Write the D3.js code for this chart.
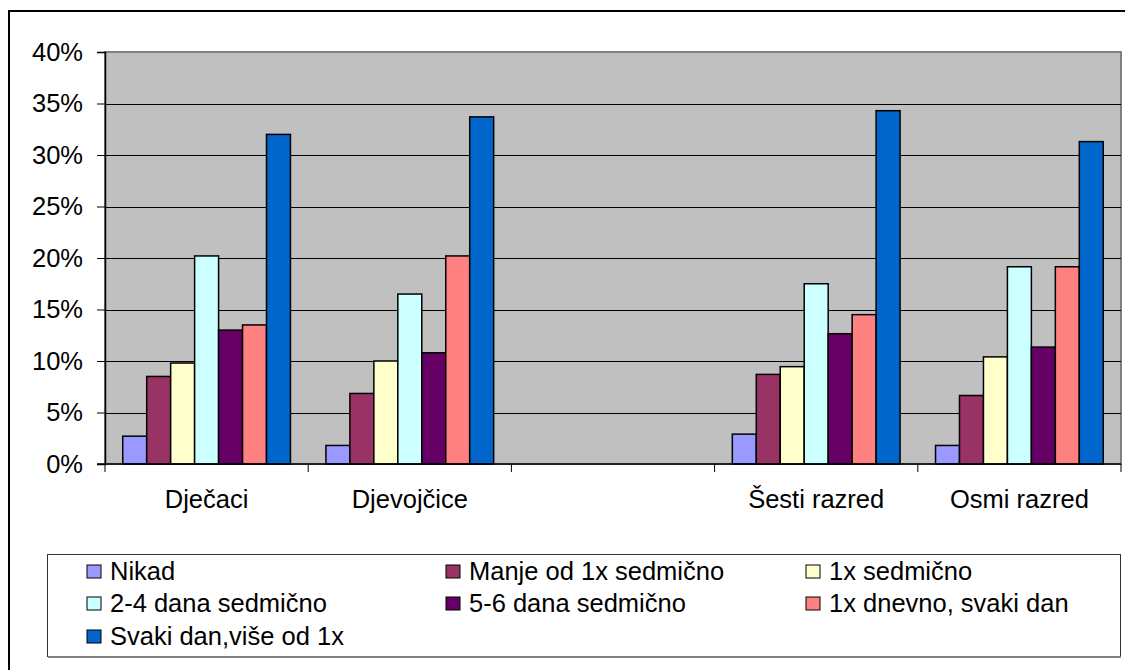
<!DOCTYPE html>
<html lang="bs">
  <head>
    <meta charset="UTF-8" />
    <title>Grouped Bar Chart</title>
    <script src="https://cdn.jsdelivr.net/npm/d3@7"></script>
    <style>
      body { margin: 0; background: #ffffff; }
      svg { display: block; font-family: Arial, "Liberation Sans", sans-serif; }
    </style>
  </head>
  <body>
    <div id="main-div"></div>
    <script>
      // categories (third slot is empty in the original chart)
      let categories = ["Dječaci", "Djevojčice", "", "Šesti razred", "Osmi razred"];
      let seriesNames = [
        "Nikad",
        "Manje od 1x sedmično",
        "1x sedmično",
        "2-4 dana sedmično",
        "5-6 dana sedmično",
        "1x dnevno, svaki dan",
        "Svaki dan,više od 1x",
      ];
      let seriesColors = ["#9999ff", "#993366", "#ffffcc", "#ccffff", "#660066", "#ff8080", "#0066cc"];
      // values in % per series, one entry per category (null = no bar)
      let nikad = [2.7, 1.8, null, 2.9, 1.8];
      let manje = [8.5, 6.85, null, 8.7, 6.65];
      let jednomSedmicno = [9.8, 10.0, null, 9.45, 10.4];
      let dvaDoCetiri = [20.2, 16.5, null, 17.5, 19.15];
      let petDoSest = [13.0, 10.8, null, 12.65, 11.35];
      let jednomDnevno = [13.5, 20.2, null, 14.5, 19.15];
      let viseOdJednom = [32.0, 33.7, null, 34.3, 31.3];
      let yTicks = [0, 5, 10, 15, 20, 25, 30, 35, 40];

      let seriesValues = [nikad, manje, jednomSedmicno, dvaDoCetiri, petDoSest, jednomDnevno, viseOdJednom];

      let W = 1125, H = 670;
      let plotLeft = 105, plotRight = 1121, plotTop = 52, plotBottom = 464;
      let fontSize = 25.5;

      let svg = d3
        .select("#main-div")
        .append("svg")
        .attr("width", W)
        .attr("height", H);

      // outer frame
      svg.append("rect")
        .attr("x", 9).attr("y", 11)
        .attr("width", 1130).attr("height", 670)
        .attr("fill", "none")
        .attr("stroke", "#000")
        .attr("stroke-width", 2);

      let x = d3.scaleBand().domain(categories).range([plotLeft, plotRight]).padding(0);
      let xs = d3.scaleBand()
        .domain(d3.range(seriesNames.length))
        .range([0, x.bandwidth()])
        .paddingInner(0)
        .paddingOuter(0.74);
      let y = d3.scaleLinear().domain([0, 40]).range([plotBottom, plotTop]);

      // plot background
      svg.append("rect")
        .attr("x", plotLeft).attr("y", plotTop)
        .attr("width", plotRight - plotLeft).attr("height", plotBottom - plotTop)
        .attr("fill", "#c0c0c0")
        .attr("stroke", "#808080")
        .attr("stroke-width", 2);

      // gridlines
      svg.append("g")
        .selectAll("line")
        .data(yTicks.filter((t) => t > 0 && t < 40))
        .join("line")
        .attr("x1", plotLeft).attr("x2", plotRight)
        .attr("y1", (d) => Math.round(y(d)) + 0.5)
        .attr("y2", (d) => Math.round(y(d)) + 0.5)
        .attr("stroke", "#000")
        .attr("stroke-width", 1);

      // bars
      seriesValues.forEach((vals, si) => {
        svg.append("g")
          .selectAll("rect")
          .data(vals.map((v, ci) => ({ v: v, c: categories[ci] })).filter((d) => d.v != null))
          .join("rect")
          .attr("x", (d) => x(d.c) + xs(si))
          .attr("y", (d) => y(d.v))
          .attr("width", xs.bandwidth())
          .attr("height", (d) => plotBottom - y(d.v))
          .attr("fill", seriesColors[si])
          .attr("stroke", "#000")
          .attr("stroke-width", 1.5);
      });

      // y axis
      let yAxis = svg.append("g")
        .attr("transform", "translate(" + plotLeft + ",0)")
        .call(d3.axisLeft(y).tickValues(yTicks).tickSize(8).tickPadding(14).tickFormat((d) => d + "%"));
      yAxis.select(".domain").attr("stroke", "#000").attr("stroke-width", 1.5);
      yAxis.selectAll(".tick line").attr("stroke", "#000");
      yAxis.selectAll("text")
        .attr("font-size", fontSize)
        .attr("font-family", "Arial, 'Liberation Sans', sans-serif")
        .attr("fill", "#000");

      // x axis with ticks at category boundaries
      let xAxis = svg.append("g").attr("transform", "translate(0," + plotBottom + ")");
      xAxis.append("line")
        .attr("x1", plotLeft - 8).attr("x2", plotRight)
        .attr("stroke", "#000").attr("stroke-width", 1.5);
      xAxis.selectAll(".xtick")
        .data(categories.map((c) => x(c)).concat([plotRight]))
        .join("line")
        .attr("class", "xtick")
        .attr("x1", (d) => d).attr("x2", (d) => d)
        .attr("y1", 0).attr("y2", 8)
        .attr("stroke", "#000");
      xAxis.selectAll(".xlabel")
        .data(categories)
        .join("text")
        .attr("class", "xlabel")
        .attr("x", (d) => x(d) + x.bandwidth() / 2)
        .attr("y", 44)
        .attr("text-anchor", "middle")
        .attr("font-size", fontSize)
        .attr("fill", "#000")
        .text((d) => d);

      // legend
      let legend = svg.append("g");
      legend.append("rect")
        .attr("x", 47.5).attr("y", 554.5)
        .attr("width", 1073).attr("height", 102)
        .attr("fill", "#fff")
        .attr("stroke", "#333")
        .attr("stroke-width", 1);
      legend.append("line")
        .attr("x1", 48).attr("x2", 1121)
        .attr("y1", 657).attr("y2", 657)
        .attr("stroke", "#808080")
        .attr("stroke-width", 2);
      let colX = [87, 446, 806];
      let rowY = [571, 603, 636];
      let items = legend.selectAll(".item")
        .data(seriesNames)
        .join("g")
        .attr("class", "item")
        .attr("transform", (d, i) => "translate(" + colX[i % 3] + "," + rowY[Math.floor(i / 3)] + ")");
      items.append("rect")
        .attr("x", 0).attr("y", -6)
        .attr("width", 14).attr("height", 13)
        .attr("fill", (d, i) => seriesColors[i])
        .attr("stroke", "#000")
        .attr("stroke-width", 1);
      items.append("text")
        .attr("x", 23)
        .attr("y", 9)
        .attr("font-size", fontSize)
        .attr("fill", "#000")
        .text((d) => d);
    </script>
  </body>
</html>
